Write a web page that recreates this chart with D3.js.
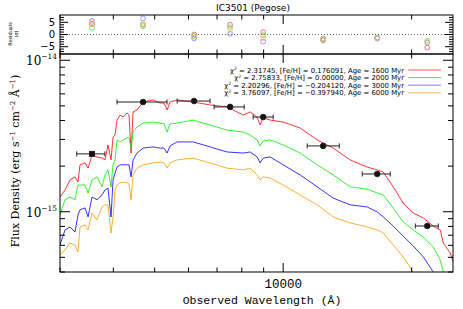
<!DOCTYPE html>
<html>
<head>
<meta charset="utf-8">
<script src="https://cdn.jsdelivr.net/npm/d3@7/dist/d3.min.js"></script>
<style>
body { margin: 0; background: #fff; }
text { fill: #000; }
</style>
</head>
<body>
<svg id="chart" width="463" height="309"></svg>
<script>
// model spectra, wavelength in Angstrom, flux in units of 1e-15 erg/s/cm2/A
var wave = [3000, 3082, 3167, 3253, 3306, 3342, 3434, 3490, 3566, 3663, 3763, 3825, 3887, 3951, 3994, 4037,
  4081, 4148, 4216, 4308, 4354, 4402, 4450, 4546, 4696, 4957, 5148, 5260, 5346, 5433, 5642, 6151, 6742, 7390, 8057, 8367, 8690,
  8830, 8976, 9323, 10001, 10960, 12017, 13101, 14359, 15737, 16610, 17156, 18107, 19112, 20172, 21295,
  22477, 23341, 23720, 24633, 25038];
var fluxRed = [1.25, 1.39, 1.62, 1.70, 1.57, 2.04, 2.10, 1.94, 2.37, 2.30, 2.26, 2.20, 2.76, 2.20, 3.11, 3.21,
  4.03, 4.35, 4.22, 4.49, 4.35, 2.44, 4.56, 4.70, 5.30, 5.47, 5.22, 5.22, 4.70, 5.30, 5.47, 5.30, 5.07, 4.92, 4.35, 4.56, 4.22,
  3.74, 4.16, 4.03, 3.91, 3.57, 2.98, 2.63, 2.20, 1.97, 1.89, 1.83, 1.46, 1.14, 0.981, 0.91,
  0.805, 0.758, 0.622, 0.534, 0.466];
var fluxGreen = [0.952, 1.20, 1.25, 1.20, 1.50, 1.50, 1.50, 1.33, 1.62, 1.70, 1.46, 1.75, 1.89, 1.46, 2.04, 2.20,
  2.98, 2.89, 2.98, 3.07, 3.07, 2.63, 3.36, 3.63, 3.85, 3.91, 3.85, 3.80, 3.36, 3.80, 3.85, 4.03, 3.74, 3.46, 3.36, 3.21, 2.98,
  2.72, 2.93, 2.98, 2.76, 2.44, 2.04, 1.75, 1.46, 1.41, 1.33, 1.29, 1.06, 0.856, 0.758, 0.681,
  0.585, 0.480, 0.400, null, null];
var fluxBlue = [0.603, 0.758, 0.793, 0.735, 0.952, 1.03, 1.06, 0.924, 1.25, 1.20, 1.29, 1.39, 1.43, 0.924, 1.62, 1.80,
  1.97, 2.04, 2.04, 2.04, 2.04, 1.70, 2.20, 2.44, 2.63, 2.68, 2.63, 2.63, 2.44, 2.72, 2.89, 2.89, 2.68, 2.48, 2.44, 2.48, 2.30,
  2.10, 2.26, 2.30, 2.04, 1.75, 1.46, 1.23, 1.11, 1.075, 0.997, 0.924, 0.805, 0.69, 0.594, 0.503,
  0.400, null, null, null, null];
var fluxOrange = [0.518, 0.559, 0.622, 0.603, 0.542, 0.793, 0.818, 0.758, 0.981, 0.882, 1.075, 1.11, 1.11, 0.724, 0.924, 1.39,
  1.50, 1.55, 1.57, 1.55, 1.52, 1.20, 1.75, 1.94, 2.04, 2.10, 2.13, 2.10, 1.94, 2.10, 2.20, 2.26, 2.10, 1.94, 1.89, 1.94, 1.75,
  1.62, 1.70, 1.67, 1.50, 1.29, 1.11, 0.924, 0.843, 0.793, 0.758, 0.724, 0.603, 0.503, 0.400, null,
  null, null, null, null, null];

// photometry
var bandWave = [3566, 4696, 6186, 7511, 8976, 12409, 16613, 21760];
var bandLo = [3283, 4080, 5644, 6889, 8506, 11385, 15323, 20400];
var bandHi = [3822, 5344, 6741, 8103, 9475, 13534, 17817, 23090];
var bandFlux = [2.41, 5.30, 5.38, 4.92, 4.22, 2.72, 1.775, 0.805];

// residuals in sigma
var resRed = [4.3, 4.1, 0.0, 4.0, 1.0, -2.4, -1.3, -5.4];
var resGreen = [2.8, 3.4, -0.6, 3.0, -0.3, -2.0, -1.3, -2.6];
var resBlue = [5.6, 6.6, -1.6, 0.3, -2.9, -1.6, -1.7, -3.4];
var resOrange = [5.0, 3.8, -1.0, 2.0, -1.6, -1.8, -1.5, -3.0];

var chi2 = ["2.31745", "2.75833", "2.20296", "3.76097"];
var feh = ["0.176091", "0.00000", "\u22120.204120", "\u22120.397940"];
var age = ["1600", "2000", "3000", "6000"];
var colors = ["#ff0000", "#00ee00", "#0000ff", "#ff9900"];
var legendColors = ["#ff5050", "#40ee40", "#8080ff", "#ffb860"];

var xTicks = [10000];
var xTickLabels = ["10000"];
var yTicks = [1e-15, 1e-14];
var yTickExp = ["\u221215", "\u221214"];
var resTicks = [-5, 0, 5];
var resTickLabels = ["\u22125", "0", "5"];

var L = 60, R = 453, T1 = 15, B1 = 54, T2 = 54, B2 = 272;

var svg = d3.select("#chart");

var x = d3.scaleLog().domain([3000, 25000]).range([L, R]);
var y = d3.scaleLog().domain([4e-16, 1.1e-14]).range([B2, T2]);
var yr = d3.scaleLinear().domain([-8, 8]).range([B1, T1]);

svg.append("clipPath").attr("id", "clip")
  .append("rect").attr("x", L).attr("y", T2).attr("width", R - L).attr("height", B2 - T2);

// spectra
var series = [fluxRed, fluxGreen, fluxBlue, fluxOrange];
var line = d3.line()
  .defined(function(d) { return d[1] != null; })
  .x(function(d) { return x(d[0]); })
  .y(function(d) { return y(d[1] * 1e-15); });

var g = svg.append("g").attr("clip-path", "url(#clip)");
series.forEach(function(s, i) {
  var pts = wave.map(function(w, j) { return [w, s[j]]; });
  g.append("path").datum(pts)
    .attr("d", line)
    .attr("fill", "none")
    .attr("stroke", colors[i])
    .attr("stroke-width", 0.8);
});

// photometry with filter widths
var ph = svg.append("g").attr("stroke", "#222").attr("stroke-width", 1);
bandWave.forEach(function(w, i) {
  var yy = y(bandFlux[i] * 1e-15);
  ph.append("line").attr("x1", x(bandLo[i])).attr("x2", x(bandHi[i])).attr("y1", yy).attr("y2", yy);
  ph.append("line").attr("x1", x(bandLo[i])).attr("x2", x(bandLo[i])).attr("y1", yy - 2.5).attr("y2", yy + 2.5);
  ph.append("line").attr("x1", x(bandHi[i])).attr("x2", x(bandHi[i])).attr("y1", yy - 2.5).attr("y2", yy + 2.5);
  if (i == 0) {
    ph.append("rect").attr("x", x(w) - 2.5).attr("y", yy - 2.5).attr("width", 5).attr("height", 5).attr("fill", "#111");
  } else {
    ph.append("circle").attr("cx", x(w)).attr("cy", yy).attr("r", 2.8).attr("fill", "#111");
  }
});

// residuals
svg.append("line").attr("x1", L).attr("x2", R).attr("y1", yr(0)).attr("y2", yr(0))
  .attr("stroke", "#333").attr("stroke-width", 0.8).attr("stroke-dasharray", "1,2");
var res = [resRed, resGreen, resBlue, resOrange];
res.forEach(function(s, i) {
  svg.append("g").selectAll("circle").data(s).enter().append("circle")
    .attr("cx", function(d, j) { return x(bandWave[j]); })
    .attr("cy", function(d) { return yr(d); })
    .attr("r", 2.4)
    .attr("fill", "none")
    .attr("stroke", legendColors[i])
    .attr("stroke-width", 0.8);
});

// frames and ticks
var ax = svg.append("g").attr("stroke", "#000").attr("stroke-width", 1);
[[T1, B1], [T2, B2]].forEach(function(p) {
  ax.append("rect").attr("x", L).attr("y", p[0]).attr("width", R - L).attr("height", p[1] - p[0]).attr("fill", "none");
  x.ticks().forEach(function(t) {
    var len = xTicks.indexOf(t) >= 0 ? 9 : 4.5;
    ax.append("line").attr("x1", x(t)).attr("x2", x(t)).attr("y1", p[1]).attr("y2", p[1] - len);
    ax.append("line").attr("x1", x(t)).attr("x2", x(t)).attr("y1", p[0]).attr("y2", p[0] + len);
  });
});
y.ticks().forEach(function(t) {
  var len = yTicks.indexOf(t) >= 0 ? 10 : 5;
  ax.append("line").attr("x1", L).attr("x2", L + len).attr("y1", y(t)).attr("y2", y(t));
  ax.append("line").attr("x1", R).attr("x2", R - len).attr("y1", y(t)).attr("y2", y(t));
});
d3.range(-7, 8).forEach(function(t) {
  var len = resTicks.indexOf(t) >= 0 ? 8 : 4;
  ax.append("line").attr("x1", L).attr("x2", L + len).attr("y1", yr(t)).attr("y2", yr(t));
  ax.append("line").attr("x1", R).attr("x2", R - len).attr("y1", yr(t)).attr("y2", yr(t));
});

// tick labels
xTicks.forEach(function(t, i) {
  svg.append("text").attr("x", x(t)).attr("y", 288).attr("text-anchor", "middle")
    .attr("font-family", "Liberation Mono").attr("font-size", 12.5).text(xTickLabels[i]);
});
yTicks.forEach(function(t, i) {
  var tx = svg.append("text").attr("x", 26).attr("y", y(t) + 5)
    .attr("font-family", "DejaVu Serif").attr("font-size", 12);
  tx.append("tspan").text("10");
  tx.append("tspan").attr("dy", -6).attr("font-size", 7.5).text(yTickExp[i]);
});
resTicks.forEach(function(t, i) {
  svg.append("text").attr("x", 55).attr("y", yr(t) + 3.5).attr("text-anchor", "end")
    .attr("font-family", "DejaVu Sans").attr("font-size", 10).text(resTickLabels[i]);
});

// titles
svg.append("text").attr("x", 253).attr("y", 11).attr("text-anchor", "middle")
  .attr("font-family", "DejaVu Sans").attr("font-size", 9).text("IC3501  (Pegose)");
svg.append("text").attr("x", 262).attr("y", 304).attr("text-anchor", "middle")
  .attr("font-family", "Liberation Mono").attr("font-size", 11.5).text("Observed Wavelength (\u00c5)");

var yl = svg.append("text").attr("transform", "translate(19,161) rotate(-90)").attr("text-anchor", "middle")
  .attr("font-family", "DejaVu Serif").attr("font-size", 11);
yl.append("tspan").text("Flux Density (erg s");
yl.append("tspan").attr("dy", -4).attr("font-size", 7).text("\u22121");
yl.append("tspan").attr("dy", 4).text(" cm");
yl.append("tspan").attr("dy", -4).attr("font-size", 7).text("\u22122");
yl.append("tspan").attr("dy", 4).text(" \u00c5");
yl.append("tspan").attr("dy", -4).attr("font-size", 7).text("\u22121");
yl.append("tspan").attr("dy", 4).text(")");

var rl = svg.append("text").attr("transform", "translate(12,34) rotate(-90)").attr("text-anchor", "middle")
  .attr("font-family", "DejaVu Sans").attr("font-size", 5);
rl.append("tspan").attr("x", 0).attr("dy", 0).text("Residuals");
rl.append("tspan").attr("x", 0).attr("dy", 6).text("(\u03c3)");

// legend
chi2.forEach(function(c, i) {
  var ly = 70 + i * 7.6;
  var t = svg.append("text").attr("x", 404).attr("y", ly + 2.5).attr("text-anchor", "end")
    .attr("font-family", "DejaVu Sans").attr("font-size", 6.9);
  t.append("tspan").text("\u03c7");
  t.append("tspan").attr("dy", -2.5).attr("font-size", 4.5).text("2");
  t.append("tspan").attr("dy", 2.5).text(" = " + c + ", [Fe/H] = " + feh[i] + ", Age = " + age[i] + " Myr");
  svg.append("line").attr("x1", 408).attr("x2", 441).attr("y1", ly).attr("y2", ly)
    .attr("stroke", legendColors[i]).attr("stroke-width", 1);
});
</script>
</body>
</html>
